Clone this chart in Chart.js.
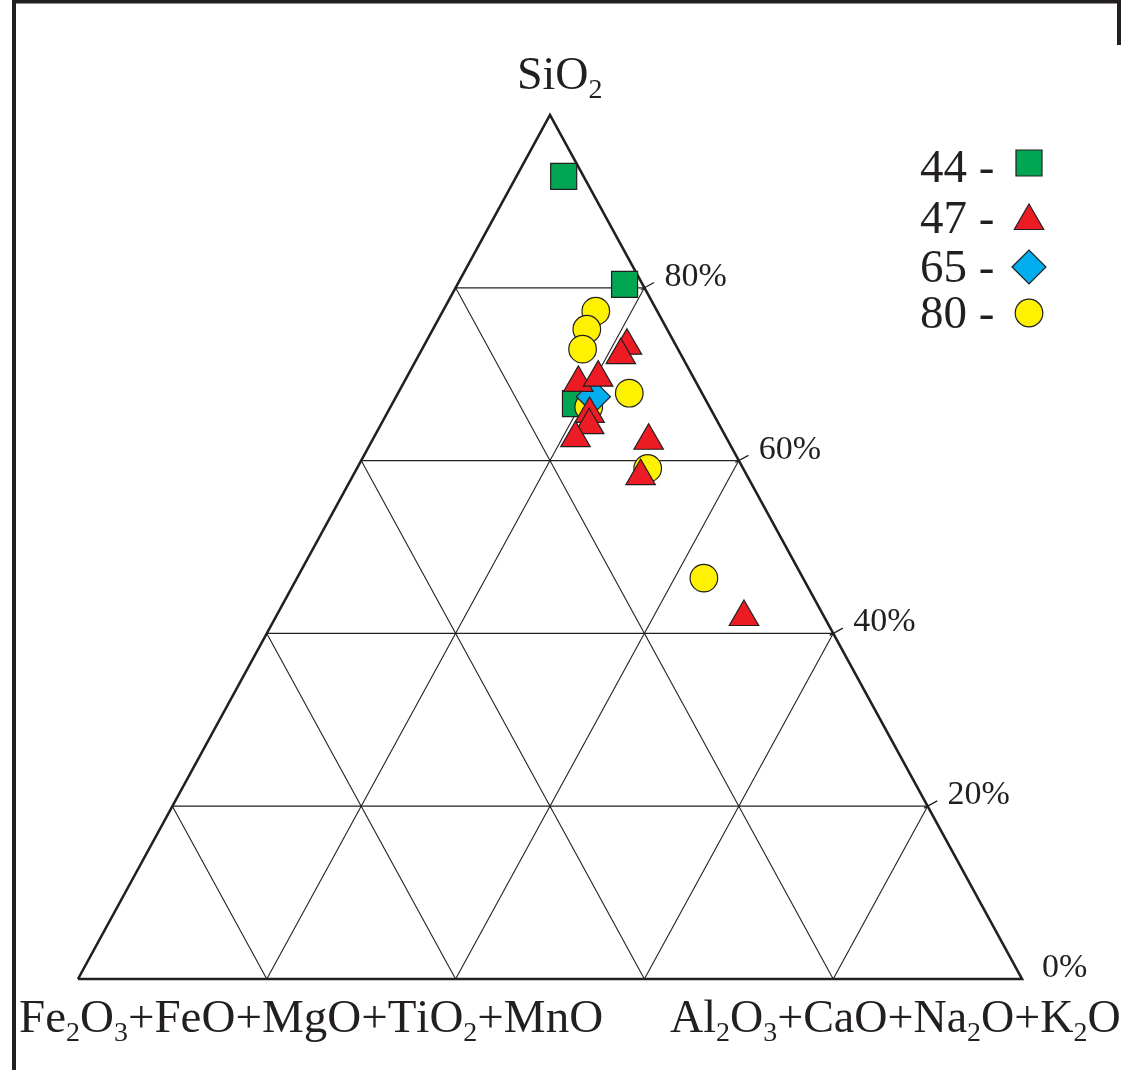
<!DOCTYPE html>
<html>
<head>
<meta charset="utf-8">
<script src="https://cdn.jsdelivr.net/npm/chart.js@4.4.0/dist/chart.umd.min.js"></script>
<style>
  body { margin: 0; background: #fff; }
  #wrap { width: 1121px; height: 1070px; }
</style>
</head>
<body>
<div id="wrap"><canvas id="chart"></canvas></div>
<script>
// ternary compositions in %
// sio2 = SiO2, acnk = Al2O3+CaO+Na2O+K2O (Fe2O3+FeO+MgO+TiO2+MnO is the rest)
var sio2_44 = [92.9, 80.4, 66.6];
var acnk_44 = [5.0, 17.7, 19.4];

var sio2_47 = [73.3, 72.2, 69.0, 69.6, 65.4, 64.1, 62.6, 62.3, 58.2, 41.9];
var acnk_47 = [21.5, 21.4, 18.5, 20.3, 21.5, 22.1, 21.4, 29.3, 30.5, 49.6];

var sio2_65 = [67.4];
var acnk_65 = [20.9];

var sio2_80 = [77.3, 75.2, 72.9, 67.8, 66.2, 59.1, 46.4];
var acnk_80 = [16.2, 16.3, 17.0, 24.5, 21.0, 30.8, 43.1];

var seriesNames = ['44', '47', '65', '80'];
var gridTicks = [20, 40, 60, 80];
var sideTicks = [0, 20, 40, 60, 80];
var sideTickLabels = ['0%', '20%', '40%', '60%', '80%'];
var apexLabel = 'SiO2';
var leftLabel = 'Fe2O3+FeO+MgO+TiO2+MnO';
var rightLabel = 'Al2O3+CaO+Na2O+K2O';

// where the triangle sits on the page (scale units == css pixels)
var TRI = { left: 78, right: 1022, top: 115, bottom: 979 };
var INK = '#231f20';
var SERIF = '"Liberation Serif", "DejaVu Serif", serif';

function toXY(s, a) {
    return {
        x: TRI.left + (a + s / 2) / 100 * (TRI.right - TRI.left),
        y: TRI.bottom - s / 100 * (TRI.bottom - TRI.top)
    };
}

function pts(sio2, acnk) {
    return sio2.map((s, i) => toXY(s, acnk[i]));
}

function lineSet(points, width) {
    return {
        type: 'line',
        data: points,
        borderColor: INK,
        borderWidth: width,
        borderJoinStyle: 'miter',
        pointRadius: 0,
        fill: false,
        order: 10
    };
}

var styles = [
    { pointStyle: 'rect', radius: 18.4, backgroundColor: '#00a651', order: 3 },
    { pointStyle: 'triangle', radius: 17, backgroundColor: '#ed1c24', order: 0 },
    { pointStyle: 'rectRot', radius: 17, backgroundColor: '#00aeef', order: 1 },
    { pointStyle: 'circle', radius: 13.8, backgroundColor: '#fff200', order: 2 }
];

var datasets = [];

// triangle grid
gridTicks.forEach(t => {
    datasets.push(lineSet([toXY(t, 0), toXY(t, 100 - t)], 1.3));
    datasets.push(lineSet([toXY(0, t), toXY(100 - t, t)], 1.1));
    datasets.push(lineSet([toXY(0, 100 - t), toXY(100 - t, 0)], 1.1));
});
datasets.push(lineSet([toXY(0, 0), toXY(100, 0), toXY(0, 100), toXY(0, 0)], 2.6));

var series = [pts(sio2_44, acnk_44), pts(sio2_47, acnk_47), pts(sio2_65, acnk_65), pts(sio2_80, acnk_80)];
series.forEach((d, i) => {
    var st = styles[i];
    datasets.push({
        type: 'scatter',
        label: seriesNames[i],
        data: d,
        pointStyle: st.pointStyle,
        pointRadius: st.radius,
        pointBackgroundColor: st.backgroundColor,
        pointBorderColor: INK,
        pointBorderWidth: 1.2,
        order: st.order
    });
});

function chemText(ctx, text, x, y, size) {
    var sub = Math.round(size * 0.6);
    for (var ch of text) {
        var isSub = /[0-9]/.test(ch);
        ctx.font = (isSub ? sub : size) + 'px ' + SERIF;
        ctx.fillText(ch, x, isSub ? y + size * 0.2 : y);
        x += ctx.measureText(ch).width;
    }
}

var decor = {
    id: 'decor',
    afterDraw(chart) {
        var ctx = chart.ctx, xs = chart.scales.x, ys = chart.scales.y;
        ctx.save();
        ctx.fillStyle = INK;
        ctx.strokeStyle = INK;
        ctx.textBaseline = 'alphabetic';
        ctx.textAlign = 'left';

        // outer frame (only top/left show in the reference)
        ctx.lineWidth = 4;
        ctx.beginPath();
        ctx.moveTo(14, 1070); ctx.lineTo(14, 1.5); ctx.lineTo(1121, 1.5);
        ctx.moveTo(1119, 0); ctx.lineTo(1119, 45);
        ctx.stroke();

        // ticks + % labels on the right edge
        var dx = TRI.right - (TRI.left + TRI.right) / 2, dy = TRI.bottom - TRI.top;
        var len = Math.hypot(dx, dy), nx = dy / len, ny = -dx / len;
        ctx.lineWidth = 1.3;
        sideTicks.forEach((t, i) => {
            var p = toXY(t, 100 - t);
            var x = xs.getPixelForValue(p.x), y = ys.getPixelForValue(p.y);
            if (t > 0) {
                ctx.beginPath();
                ctx.moveTo(x - 4 * nx, y - 4 * ny);
                ctx.lineTo(x + 11 * nx, y + 11 * ny);
                ctx.stroke();
            }
            ctx.font = '34px ' + SERIF;
            ctx.fillText(sideTickLabels[i], x + 20, y - 2);
        });

        // corner labels
        chemText(ctx, apexLabel, 517, 89, 46);
        chemText(ctx, leftLabel, 19, 1032, 47);
        chemText(ctx, rightLabel, 670, 1032, 46);

        // legend
        var rows = [163, 221, 267, 313];
        var base = [182, 233, 282, 328];
        seriesNames.forEach((n, i) => {
            ctx.fillStyle = INK;
            ctx.font = '47px ' + SERIF;
            ctx.fillText(n + ' -', 920, base[i]);
            var st = styles[i];
            ctx.fillStyle = st.backgroundColor;
            ctx.strokeStyle = INK;
            ctx.lineWidth = 1.2;
            Chart.helpers.drawPoint(ctx, { pointStyle: st.pointStyle, radius: st.radius, rotation: 0, borderWidth: 1.2 }, 1029, rows[i]);
        });
        ctx.restore();
    }
};

new Chart(document.getElementById('chart'), {
    type: 'scatter',
    data: { datasets: datasets },
    options: {
        responsive: true,
        maintainAspectRatio: false,
        animation: false,
        layout: { padding: 0, autoPadding: false },
        plugins: { legend: { display: false }, tooltip: { enabled: false } },
        scales: {
            x: { type: 'linear', display: false, min: 0, max: 1121 },
            y: { type: 'linear', display: false, min: 0, max: 1070, reverse: true }
        }
    },
    plugins: [decor]
});
</script>
</body>
</html>
